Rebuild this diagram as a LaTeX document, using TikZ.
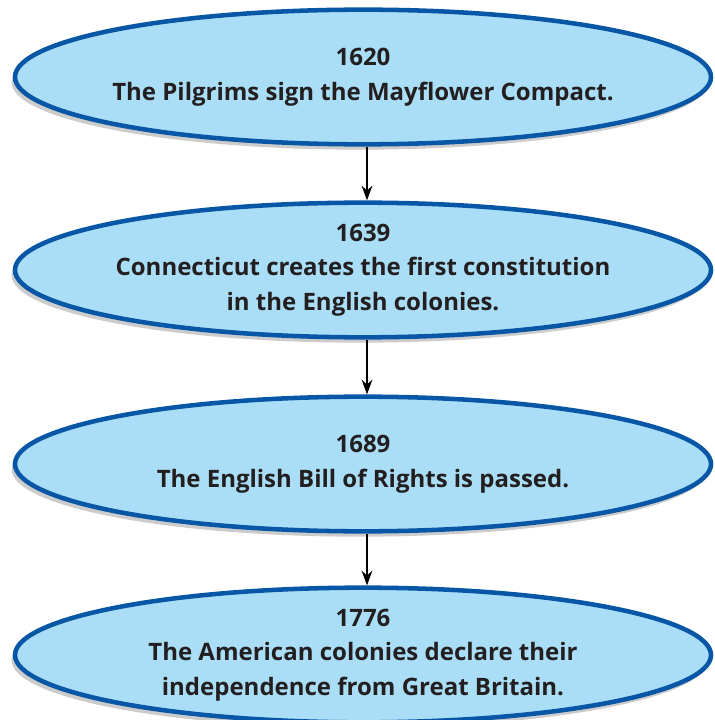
\documentclass[tikz,border=0pt]{standalone}
\usepackage{fontspec}
\setmainfont{Open Sans}
\usetikzlibrary{shapes.geometric,shadows,arrows.meta}

\definecolor{evfill}{RGB}{170,222,247}
\definecolor{evline}{RGB}{8,86,166}
\definecolor{evtext}{RGB}{35,31,32}

\begin{document}
\begin{tikzpicture}[x=0.75pt, y=-0.75pt,
    event/.style={ellipse, draw=evline, line width=3.4pt, fill=evfill,
        minimum width=522pt, minimum height=101pt,
        inner xsep=-40pt, inner ysep=-15pt,
        text=evtext, align=center, font=\bfseries\fontsize{18}{26}\selectfont,
        drop shadow={shadow xshift=-2.5pt, shadow yshift=-4pt, opacity=0.4}},
    link/.style={line width=1.6pt, draw=black, -{Stealth[length=11pt, width=8pt]}}]
    \useasboundingbox (0,0) rectangle (714,720);

    \node[event] (e1) at (363, 77) {1620\\The Pilgrims sign the Mayflower Compact.};
    \node[event] (e2) at (363, 270) {1639\\Connecticut creates the first constitution\\in the English colonies.};
    \node[event] (e3) at (363, 464) {1689\\The English Bill of Rights is passed.};
    \node[event] (e4) at (363, 655) {1776\\The American colonies declare their\\independence from Great Britain.};

    \draw[link] ([xshift=3pt]e1.south) -- ([xshift=3pt]e2.north);
    \draw[link] ([xshift=3pt]e2.south) -- ([xshift=3pt]e3.north);
    \draw[link] ([xshift=3pt]e3.south) -- ([xshift=3pt]e4.north);
\end{tikzpicture}
\end{document}
